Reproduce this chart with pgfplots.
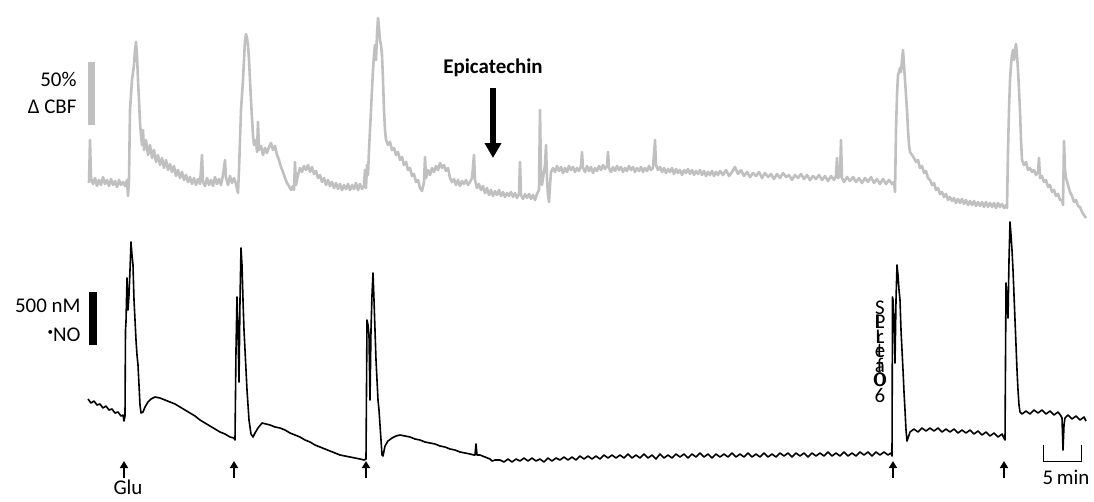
\documentclass[border=0pt]{standalone}
\usepackage{fontspec}
\setmainfont{Carlito}
\usepackage{pgfplots}
\pgfplotsset{compat=1.18}
\usetikzlibrary{arrows.meta}

\definecolor{cbfgray}{RGB}{192,192,192}
\newcommand{\ov}[2]{\makebox[0pt]{#1}\makebox[0pt]{#2}}

% traces in picture units (x: time, y: downwards)
\pgfplotstableread{
x y
89 183
90 140
91 178
93 184
95 178
97 186
99 180
101 185
103 177
105 184
107 180
109 186
111 179
113 185
115 181
117 187
119 180
121 185
123 182
125 186
127 180
128 196
129 180
130 110
132 80
134 65
135 50
136 42
137 55
138 80
139 100
140 123
141 135
142 145
143 130
144 150
146 140
148 155
150 145
152 158
154 150
156 162
158 155
160 165
162 158
164 168
166 160
168 170
170 164
172 172
174 166
176 176
178 170
180 178
182 172
184 180
186 175
188 182
190 177
192 184
194 178
196 185
198 179
200 184
202 155
203 182
205 186
207 178
209 185
211 180
213 186
215 177
217 184
219 179
221 185
223 175
225 160
226 178
228 185
230 176
232 183
234 178
236 184
238 193
239 170
240 140
241 110
243 80
244 60
245 40
246 34
247 38
248 45
249 60
250 80
251 100
252 118
253 135
254 145
256 140
257 152
258 122
259 150
261 146
263 155
265 148
267 153
269 147
271 143
273 150
275 146
277 155
279 160
281 167
283 172
285 178
287 183
289 186
291 190
293 186
294 190
295 162
296 185
298 175
300 168
302 172
304 166
306 170
308 165
310 172
312 167
314 174
316 171
318 178
320 175
322 182
324 178
326 185
328 180
330 186
332 182
334 188
336 183
338 189
340 184
342 190
344 185
346 189
348 184
350 190
352 185
354 189
356 183
358 190
360 184
362 189
364 186
365 170
366 188
367 165
368 175
369 150
370 130
371 110
372 90
373 70
374 55
375 45
376 60
377 35
378 18
379 28
380 40
381 45
382 55
383 80
384 110
385 130
386 140
388 145
390 142
392 150
394 148
396 155
398 152
400 160
402 157
404 165
406 162
408 170
410 168
412 176
414 174
416 182
418 180
420 188
422 191
424 182
425 157
426 178
428 170
430 175
432 168
434 172
436 166
438 170
440 163
442 168
444 165
446 171
448 168
450 178
452 182
454 179
456 185
458 180
460 186
462 181
464 184
466 180
468 185
470 182
472 178
474 155
475 180
477 188
479 184
481 190
483 186
485 193
487 188
489 195
491 190
493 196
495 191
497 195
499 190
501 196
503 192
505 197
507 193
509 196
511 192
513 197
515 193
517 198
519 194
520 162
521 195
523 199
525 194
527 198
529 194
531 199
533 195
535 200
537 194
539 190
540 110
541 175
542 185
543 178
545 165
546 145
547 180
548 195
549 202
550 185
551 172
553 168
555 172
557 166
559 171
561 167
563 173
565 168
567 172
569 166
571 170
573 167
575 172
577 168
579 171
581 166
582 152
583 168
585 172
587 166
589 171
591 167
593 173
595 168
597 171
599 166
601 170
603 165
605 169
607 166
608 152
609 168
611 172
613 167
615 171
617 166
619 170
621 167
623 172
625 168
627 171
629 166
631 170
633 167
635 172
637 168
639 171
641 167
643 172
645 168
647 171
649 166
651 170
653 168
655 140
656 165
658 170
660 167
662 172
664 168
666 173
668 169
670 172
672 168
674 174
676 169
678 173
680 170
682 175
684 170
686 173
688 169
690 174
692 170
694 175
696 171
698 174
700 170
702 175
704 171
706 176
708 172
710 175
712 171
714 176
716 172
718 175
720 171
723 175
726 170
729 176
732 172
735 167
738 174
741 170
744 176
747 172
750 177
753 173
756 176
759 172
762 178
765 173
768 177
771 174
774 179
777 174
780 178
783 173
786 177
789 175
792 180
795 175
798 178
801 174
804 179
807 175
810 180
813 176
816 179
819 175
822 180
825 176
828 181
831 176
834 180
836 176
837 158
838 178
840 176
841 140
842 178
844 182
847 177
850 181
853 177
856 182
859 178
862 183
865 178
868 182
871 177
874 183
877 179
880 184
883 179
886 184
889 180
892 184
894 182
895 192
896 130
897 95
898 75
899 72
900 68
901 72
902 60
903 50
904 65
905 80
906 95
907 110
908 130
909 145
910 152
912 155
914 158
916 162
918 160
920 168
922 166
924 173
926 171
928 178
930 180
932 185
934 183
936 190
938 188
940 194
942 192
944 197
946 194
948 200
950 197
952 201
954 198
956 203
958 199
960 203
962 199
964 204
966 200
968 205
970 201
972 205
974 201
976 206
978 202
980 206
982 202
984 207
986 202
988 207
990 203
992 207
994 203
996 208
998 203
1000 207
1002 204
1004 208
1006 205
1007 208
1008 150
1009 110
1010 80
1011 65
1012 55
1013 50
1014 60
1015 50
1016 44
1017 55
1018 70
1019 90
1020 110
1021 140
1022 160
1024 165
1026 162
1028 170
1030 168
1032 172
1034 170
1036 175
1038 172
1039 158
1040 178
1042 176
1044 182
1046 180
1048 187
1050 185
1052 192
1054 190
1056 196
1058 194
1060 200
1062 200
1063 205
1064 141
1065 170
1066 178
1068 185
1070 192
1072 196
1074 202
1076 200
1078 206
1080 207
1082 212
1084 215
1086 218
}\cbf

\pgfplotstableread{
x y
88 399
91 403
94 401
97 405
100 404
103 408
106 406
109 410
112 409
115 413
118 412
121 416
123 415
124 421
125 416
125.5 330
126 322
127 278
128 310
129 295
130 270
131 242
132 255
133 265
134 300
135 320
136 340
137 355
138 365
139 385
140 405
141 413
143 412
145 407
148 402
151 399
155 397
160 398
165 400
170 402
175 404
180 407
185 410
190 413
195 416
200 420
205 423
210 426
215 429
220 432
225 434
230 437
234 438
235 440
236 350
237 297
238 330
239 382
240 300
241 248
242 265
243 300
244 330
245 350
246 370
247 390
249 420
251 434
253 437
255 433
258 428
262 423
266 424
270 425
275 427
280 428
285 430
290 433
295 435
300 437
305 440
310 442
315 445
320 447
325 449
330 451
335 453
340 455
345 456
350 457
355 458
360 459
364 460
366 459
367 320
368 325
369 335
370 400
371 330
372 295
373 273
374 300
375 330
376 360
377 380
378 400
379 410
380 425
381 440
382 455
383 456
385 446
388 441
392 438
396 436
400 435
405 436
410 437
415 439
420 440
425 442
430 443
435 444
440 446
445 447
450 449
455 450
460 452
465 453
470 454
474 455
475 455
476 444
477 455
480 455
485 457
490 459
492 461
495 460
500 460
504 462
508 459
512 462
516 459
520 461
524 458
528 461
532 458
536 461
540 459
544 462
548 458
552 461
556 458
560 460
564 457
568 460
572 457
576 460
580 456
584 459
588 456
592 459
596 456
600 459
604 455
608 458
612 455
616 458
620 455
624 458
628 454
632 458
636 455
640 458
644 454
648 458
652 455
656 459
660 454
664 458
668 455
672 458
676 454
680 457
684 454
688 458
692 454
696 457
700 453
704 457
708 454
712 458
716 454
720 457
724 454
728 457
732 453
736 457
740 454
744 457
748 453
752 457
756 454
760 457
764 453
768 457
772 454
776 457
780 453
784 456
788 453
792 457
796 453
800 456
804 453
808 457
812 453
816 456
820 453
824 456
828 452
832 456
836 453
840 456
844 452
848 456
852 453
856 456
860 452
864 455
868 452
872 456
876 452
880 455
884 452
888 455
891 453
892 456
892.5 297
893 300
894 320
895 363
896 300
897 265
898 275
899 290
900 300
901 330
902 350
903 370
904 392
905 410
906 430
907 441
908 438
910 432
914 429
918 432
922 428
926 431
930 428
934 431
938 428
942 432
946 429
950 432
954 429
958 433
962 430
966 433
970 430
974 434
978 431
982 435
986 432
990 436
994 433
998 437
1002 434
1004 438
1005 440
1006 283
1007 300
1008 318
1009 260
1010 222
1011 235
1012 250
1013 270
1014 295
1015 320
1016 345
1017 370
1018 390
1019 405
1020 412
1022 414
1026 411
1030 414
1034 410
1038 413
1042 410
1046 414
1050 411
1054 415
1058 412
1061 416
1062 418
1063 450
1064 425
1065 418
1068 415
1072 419
1076 416
1080 420
1084 417
1086 421
}\nitric

\begin{document}
\begin{tikzpicture}[font=\fontsize{21}{24}\selectfont]
\begin{axis}[
    width=1094bp, height=501bp, scale only axis,
    xmin=0, xmax=1094, ymin=0, ymax=501, y dir=reverse,
    axis lines=none, clip=false
]
\addplot[cbfgray, line width=2.6bp, line join=round] table {\cbf};
\addplot[black, line width=1.6bp, line join=round] table {\nitric};

% scale bars
\fill[cbfgray] (axis cs:88,62) rectangle (axis cs:95,125);
\fill[black] (axis cs:89,292) rectangle (axis cs:97,345);
\node[anchor=east] at (axis cs:80,79) {50\%};
\node[anchor=east] at (axis cs:80,107) {Δ CBF};
\node[anchor=east] at (axis cs:84,306) {500 nM};
\node[anchor=east] at (axis cs:84,335) {\raisebox{0.6ex}{\fontsize{11}{12}\selectfont\textbullet}NO};

% drug application
\node[font=\fontsize{21}{24}\selectfont\bfseries] at (axis cs:493,68) {Epicatechin};
\draw[line width=5.5bp, -{Triangle[width=16bp,length=15bp]}] (axis cs:493,88) -- (axis cs:493,158);

% glutamate arrows
\pgfplotsinvokeforeach{124,234,366,893,1004}{
  \draw[line width=1.6bp, -{Triangle[width=8bp,length=7bp]}] (axis cs:#1,478) -- (axis cs:#1,461);
}
\node[inner sep=0pt, anchor=base] at (axis cs:128,494) {Glu};

% time bar
\draw[line width=0.9bp] (axis cs:1043,445) -- (axis cs:1043,461) -- (axis cs:1081,461) -- (axis cs:1081,445);
\node at (axis cs:1066,477) {5\,min};

% stacked label
\node[font=\fontsize{21}{14.2}\selectfont, align=center, anchor=north, inner sep=0pt] at (axis cs:880,301)
  {S\\\ov{P}{L}\\\ov{r}{L}\\\ov{e}{t}\\\ov{f}{a}\\\ov{O}{0}\\6};
\end{axis}
\pgfresetboundingbox
\path (current axis.south west) rectangle (current axis.north east);
\end{tikzpicture}
\end{document}
